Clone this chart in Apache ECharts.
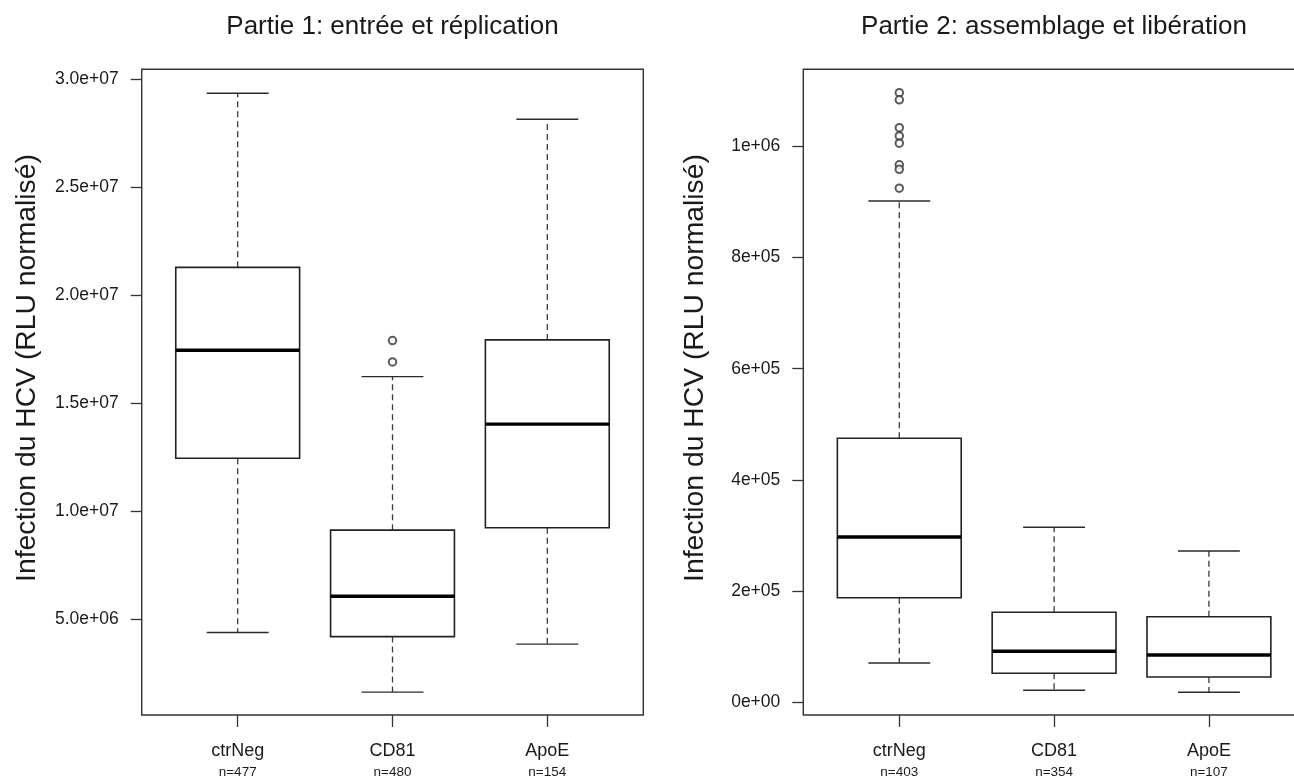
<!DOCTYPE html>
<html>
<head>
<meta charset="utf-8">
<script src="https://cdn.jsdelivr.net/npm/echarts@6/dist/echarts.min.js"></script>
<style>
html,body{margin:0;padding:0;background:#fff;}
#chart{width:1294px;height:778px;}
</style>
</head>
<body>
<div id="chart"></div>
<script>
// ---- data ----
const categories = ['ctrNeg', 'CD81', 'ApoE'];
const nPart1 = [477, 480, 154];
const nPart2 = [403, 354, 107];

// [lower whisker, Q1, median, Q3, upper whisker]
const boxPart1 = [
  [4.40e6, 12.47e6, 17.47e6, 21.31e6, 29.37e6],
  [1.64e6, 4.21e6, 6.08e6, 9.14e6, 16.25e6],
  [3.86e6, 9.25e6, 14.05e6, 17.95e6, 28.17e6]
];
const boxPart2 = [
  [0.0702e6, 0.1878e6, 0.297e6, 0.4747e6, 0.902e6],
  [0.0211e6, 0.0517e6, 0.0913e6, 0.1615e6, 0.3145e6],
  [0.0175e6, 0.045e6, 0.0846e6, 0.1536e6, 0.2718e6]
];
// outliers: [category index (1-based), value]
const outPart1 = [[2, 17.92e6], [2, 16.93e6]];
const outPart2 = [
  [1, 1.097e6], [1, 1.084e6], [1, 1.034e6], [1, 1.019e6],
  [1, 1.006e6], [1, 0.967e6], [1, 0.959e6], [1, 0.925e6]
];

const ticksPart1 = [5e6, 1e7, 1.5e7, 2e7, 2.5e7, 3e7];
const tickLabelsPart1 = ['5.0e+06', '1.0e+07', '1.5e+07', '2.0e+07', '2.5e+07', '3.0e+07'];
const ticksPart2 = [0, 2e5, 4e5, 6e5, 8e5, 1e6];
const tickLabelsPart2 = ['0e+00', '2e+05', '4e+05', '6e+05', '8e+05', '1e+06'];

const titles = ['Partie 1: entrée et réplication', 'Partie 2: assemblage et libération'];
const yTitle = 'Infection du HCV (RLU normalisé)';

// ---- chart ----
const FONT = 'Liberation Sans, Arial, Helvetica, sans-serif';
const chart = echarts.init(document.getElementById('chart'), null, {renderer: 'canvas'});

function findLabel(ticks, labels, v) {
  for (let i = 0; i < ticks.length; i++) {
    if (Math.abs(ticks[i] - v) < 1e-6 * Math.max(1, Math.abs(ticks[i]))) return labels[i];
  }
  return '';
}

function xAxisFor(gridIndex, ns) {
  return {
    type: 'value', gridIndex: gridIndex, min: 0.38, max: 3.62,
    axisLine: {show: false, onZero: false},
    splitLine: {show: false},
    axisTick: {show: true, length: 12, customValues: [1, 2, 3], lineStyle: {color: '#333', width: 1.3}},
    axisLabel: {
      customValues: [1, 2, 3], margin: 25,
      formatter: function (v) {
        const i = Math.round(v) - 1;
        return '{a|' + categories[i] + '}\n{b|n=' + ns[i] + '}';
      },
      rich: {
        a: {fontSize: 18, lineHeight: 22, color: '#1a1a1a', fontFamily: FONT},
        b: {fontSize: 13.5, lineHeight: 20, color: '#1a1a1a', fontFamily: FONT}
      }
    }
  };
}

function yAxisFor(gridIndex, min, max, ticks, labels) {
  return {
    type: 'value', gridIndex: gridIndex, min: min, max: max,
    axisLine: {show: false},
    splitLine: {show: false},
    axisTick: {show: true, length: 11, customValues: ticks, lineStyle: {color: '#333', width: 1.3}},
    axisLabel: {
      customValues: ticks, margin: 23, fontSize: 17.5, color: '#1a1a1a', fontFamily: FONT,
      formatter: function (v) { return findLabel(ticks, labels, v); }
    }
  };
}

function renderBox(params, api) {
  const x = api.value(0);
  const pLo = api.coord([x, api.value(1)]);
  const pQ1 = api.coord([x, api.value(2)]);
  const pMed = api.coord([x, api.value(3)]);
  const pQ3 = api.coord([x, api.value(4)]);
  const pHi = api.coord([x, api.value(5)]);
  const bw = api.size([0.8, 0])[0];
  const cw = api.size([0.4, 0])[0];
  const cx = pLo[0];
  const dashStyle = {stroke: '#3a3a3a', lineWidth: 1.3, lineDash: [6, 4]};
  const solid = {stroke: '#2a2a2a', lineWidth: 1.4};
  return {
    type: 'group',
    children: [
      {type: 'line', shape: {x1: cx, y1: pQ3[1], x2: cx, y2: pHi[1]}, style: dashStyle},
      {type: 'line', shape: {x1: cx, y1: pQ1[1], x2: cx, y2: pLo[1]}, style: dashStyle},
      {type: 'line', shape: {x1: cx - cw / 2, y1: pHi[1], x2: cx + cw / 2, y2: pHi[1]}, style: solid},
      {type: 'line', shape: {x1: cx - cw / 2, y1: pLo[1], x2: cx + cw / 2, y2: pLo[1]}, style: solid},
      {type: 'rect', shape: {x: cx - bw / 2, y: pQ3[1], width: bw, height: pQ1[1] - pQ3[1]},
        style: {fill: '#fff', stroke: '#222', lineWidth: 1.6}},
      {type: 'line', shape: {x1: cx - bw / 2, y1: pMed[1], x2: cx + bw / 2, y2: pMed[1]},
        style: {stroke: '#000', lineWidth: 3.4}}
    ]
  };
}

function boxData(stats) {
  return stats.map(function (s, i) { return [i + 1].concat(s); });
}

const option = {
  animation: false,
  backgroundColor: '#ffffff',
  grid: [
    {left: 141.7, top: 69.3, width: 501.6, height: 645.7, show: true, borderColor: '#333', borderWidth: 1.4,
      backgroundColor: 'transparent', containLabel: false, outerBoundsMode: 'none'},
    {left: 803.3, top: 69.3, width: 501.6, height: 645.7, show: true, borderColor: '#333', borderWidth: 1.4,
      backgroundColor: 'transparent', containLabel: false, outerBoundsMode: 'none'}
  ],
  xAxis: [xAxisFor(0, nPart1), xAxisFor(1, nPart2)],
  yAxis: [
    yAxisFor(0, 0.58e6, 30.48e6, ticksPart1, tickLabelsPart1),
    yAxisFor(1, -0.0234e6, 1.139e6, ticksPart2, tickLabelsPart2)
  ],
  series: [
    {type: 'custom', xAxisIndex: 0, yAxisIndex: 0, renderItem: renderBox, data: boxData(boxPart1),
      encode: {x: 0, y: [1, 2, 3, 4, 5]}, silent: true},
    {type: 'custom', xAxisIndex: 1, yAxisIndex: 1, renderItem: renderBox, data: boxData(boxPart2),
      encode: {x: 0, y: [1, 2, 3, 4, 5]}, silent: true},
    {type: 'scatter', xAxisIndex: 0, yAxisIndex: 0, data: outPart1, symbol: 'emptyCircle', symbolSize: 7.5,
      itemStyle: {color: '#333', borderWidth: 1.1}, silent: true, z: 5},
    {type: 'scatter', xAxisIndex: 1, yAxisIndex: 1, data: outPart2, symbol: 'emptyCircle', symbolSize: 7.5,
      itemStyle: {color: '#333', borderWidth: 1.1}, silent: true, z: 5}
  ],
  graphic: [
    {type: 'text', x: 392.5, y: 27, silent: true,
      style: {text: titles[0], fontSize: 26, fontFamily: FONT, fill: '#1a1a1a', align: 'center', verticalAlign: 'middle'}},
    {type: 'text', x: 1054, y: 27, silent: true,
      style: {text: titles[1], fontSize: 26, fontFamily: FONT, fill: '#1a1a1a', align: 'center', verticalAlign: 'middle'}},
    {type: 'text', x: 27, y: 368, rotation: Math.PI / 2, silent: true,
      style: {text: yTitle, fontSize: 28.3, fontFamily: FONT, fill: '#1a1a1a', align: 'center', verticalAlign: 'middle'}},
    {type: 'text', x: 695, y: 368, rotation: Math.PI / 2, silent: true,
      style: {text: yTitle, fontSize: 28.3, fontFamily: FONT, fill: '#1a1a1a', align: 'center', verticalAlign: 'middle'}}
  ]
};
chart.setOption(option);
</script>
</body>
</html>
